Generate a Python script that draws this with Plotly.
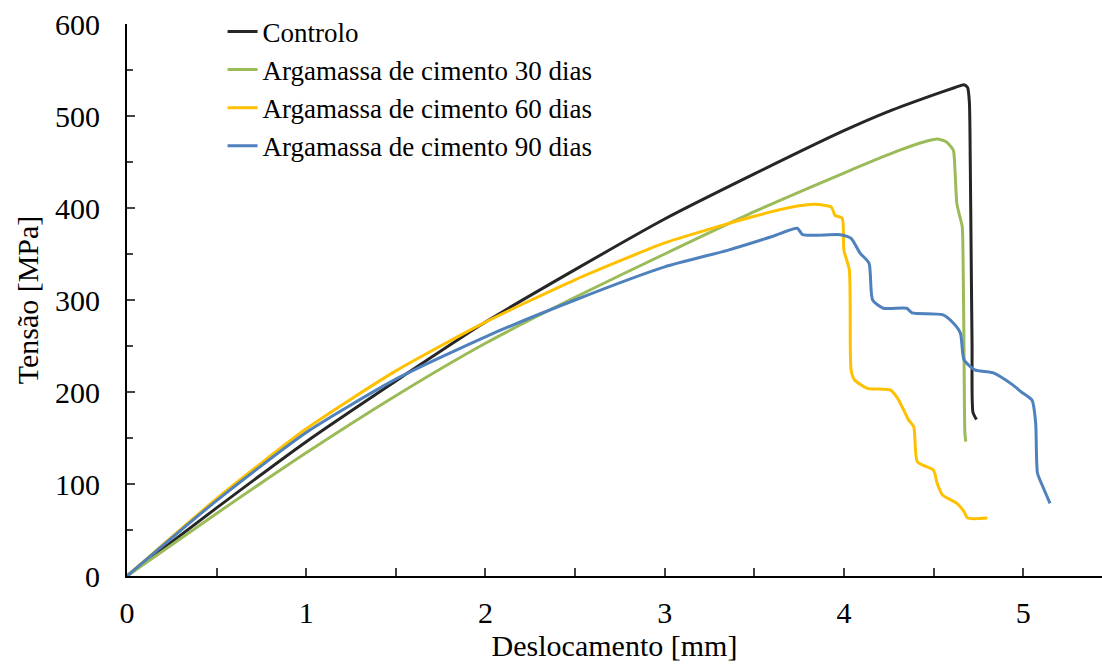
import plotly.graph_objects as go

# Controlo
ctrl_x = [0, 0.5, 1.0, 1.5, 2.0, 2.5, 3.0, 3.5, 4.0, 4.25, 4.5, 4.62, 4.67, 4.69, 4.70, 4.705, 4.71, 4.715, 4.72, 4.74]
ctrl_y = [0, 74, 146, 212, 276, 333, 388, 437, 484, 505, 523, 531, 534, 531, 515, 450, 350, 250, 178, 170]

# 30 dias
g_x = [0, 0.5, 1.0, 1.5, 2.0, 2.5, 3.0, 3.5, 4.0, 4.3, 4.45, 4.52, 4.57, 4.61, 4.62, 4.63, 4.645, 4.66, 4.665,
       4.67, 4.675, 4.68]
g_y = [0, 68, 134, 196, 253, 303, 350, 396, 438, 462, 472, 475, 472, 463, 440, 405, 392, 380, 343,
       250, 155, 146]

# 60 dias
y_x = [0, 0.5, 1.0, 1.5, 2.0, 2.5, 3.0, 3.25, 3.5, 3.71, 3.84, 3.93, 3.95, 3.99,
       4.00, 4.03, 4.04, 4.06, 4.13, 4.26, 4.30, 4.36, 4.39, 4.41, 4.50, 4.52, 4.55, 4.63, 4.67, 4.69, 4.80]
y_y = [0, 84, 160, 223, 276, 322, 362, 377, 391, 401, 404, 401, 392, 389,
       354, 333, 224, 213, 204, 202, 193, 170, 162, 124, 115, 101, 88, 79, 70, 63, 63]

# 90 dias
b_x = [0, 0.5, 1.0, 1.5, 2.0, 2.5, 3.0, 3.35, 3.6, 3.74, 3.77,
       3.98, 4.04, 4.09, 4.14, 4.16, 4.22, 4.35, 4.38, 4.55, 4.61, 4.65, 4.67, 4.73, 4.83, 4.94, 4.99, 5.05,
       5.07, 5.08, 5.11, 5.15]
b_y = [0, 82, 156, 214, 260, 300, 336, 354, 369, 378, 371,
       371, 367, 351, 340, 300, 291, 291, 286, 284, 275, 264, 235, 224, 221, 208, 200, 191,
       166, 112, 97, 79]

names = ["Controlo", "Argamassa de cimento 30 dias", "Argamassa de cimento 60 dias", "Argamassa de cimento 90 dias"]
colors = ["#262626", "#9BBB59", "#FFC000", "#4F81BD"]
xs = [ctrl_x, g_x, y_x, b_x]
ys = [ctrl_y, g_y, y_y, b_y]

fig = go.Figure()
for n, c, x, y in zip(names, colors, xs, ys):
    fig.add_trace(go.Scatter(x=x, y=y, mode="lines", name=n,
                             line=dict(color=c, width=3, shape="spline", smoothing=0.6)))

font = "Liberation Serif, Times New Roman, serif"
fig.update_layout(
    width=1102, height=666,
    margin=dict(l=127, r=0, t=24, b=90),
    paper_bgcolor="white", plot_bgcolor="white",
    font=dict(family=font, size=29, color="black"),
    legend=dict(x=0.098, y=1.03, xanchor="left", yanchor="top", bgcolor="rgba(0,0,0,0)",
                font=dict(size=27), tracegroupgap=0, itemwidth=30),
    showlegend=True,
)
fig.update_xaxes(range=[0, 5.44], tickvals=[0, 1, 2, 3, 4, 5], ticks="inside", ticklen=8, tickwidth=2,
                 showline=True, linecolor="black", linewidth=2, showgrid=False, zeroline=False,
                 tickfont=dict(size=30), ticklabelstandoff=9,
                 minor=dict(tickvals=[0.5, 1.5, 2.5, 3.5, 4.5], ticks="inside", ticklen=8, tickwidth=2, showgrid=False),
                 title=dict(text="Deslocamento [mm]", font=dict(size=30), standoff=4))
fig.update_yaxes(range=[0, 600], tickvals=[0, 100, 200, 300, 400, 500, 600], ticks="inside", ticklen=8, tickwidth=2,
                 showline=True, linecolor="black", linewidth=2, showgrid=False, zeroline=False,
                 tickfont=dict(size=30), ticklabelstandoff=19,
                 minor=dict(tickvals=[50, 150, 250, 350, 450, 550], ticks="inside", ticklen=6, tickwidth=2, showgrid=False),
                 title=dict(text="Tensão [MPa]", font=dict(size=30), standoff=8))
fig.write_html("out.html")
